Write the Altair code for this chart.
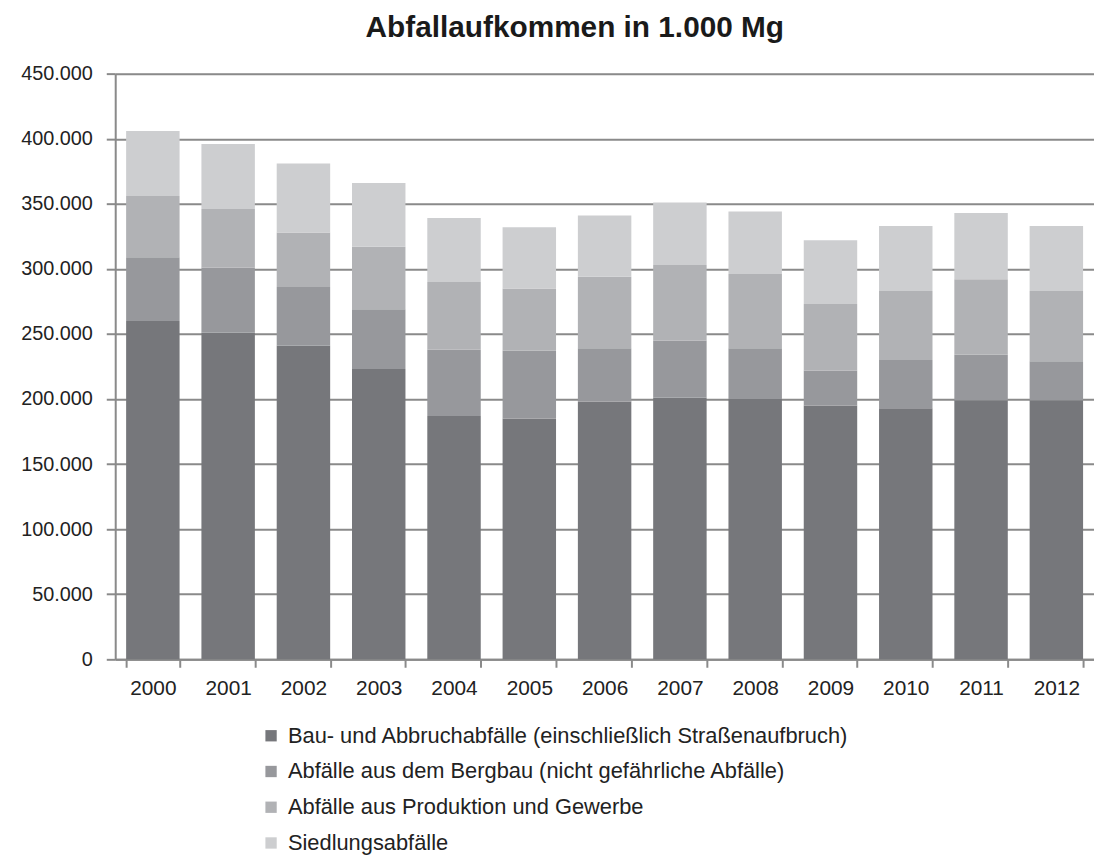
import altair as alt
import pandas as pd

years = ["2000", "2001", "2002", "2003", "2004", "2005", "2006",
         "2007", "2008", "2009", "2010", "2011", "2012"]
series_names = [
    "Bau- und Abbruchabfälle (einschließlich Straßenaufbruch)",
    "Abfälle aus dem Bergbau (nicht gefährliche Abfälle)",
    "Abfälle aus Produktion und Gewerbe",
    "Siedlungsabfälle",
]
bau = [260000, 251000, 241000, 223000, 187000, 185000, 198000,
       201000, 200000, 195000, 193000, 199000, 199000]
bergbau = [49000, 50000, 45000, 46000, 51000, 52000, 41000,
           44000, 39000, 27000, 37000, 35000, 30000]
produktion = [47000, 45000, 42000, 48000, 52000, 48000, 55000,
              58000, 57000, 51000, 53000, 58000, 54000]
siedlung = [50000, 50000, 53000, 49000, 49000, 47000, 47000,
            48000, 48000, 49000, 50000, 51000, 50000]
colors = ["#76777b", "#97989c", "#b1b2b5", "#cdced0"]

rows = []
for i, vals in enumerate([bau, bergbau, produktion, siedlung]):
    for y, v in zip(years, vals):
        rows.append({"Jahr": y, "Art": series_names[i], "Wert": v, "ord": i})
df = pd.DataFrame(rows)

FONT = "Liberation Sans"

chart = alt.Chart(df).mark_bar(strokeWidth=0).encode(
    x=alt.X("Jahr:N", sort=years, title=None,
            scale=alt.Scale(paddingInner=0.29, paddingOuter=0.145),
            axis=alt.Axis(labelAngle=0, labelFontSize=21, labelFont=FONT,
                          labelColor="#222222", domainColor="#8a8a8a",
                          domainWidth=2, tickColor="#8a8a8a", tickWidth=2,
                          tickSize=8, tickBand="extent", labelPadding=10,
                          grid=False)),
    y=alt.Y("Wert:Q", title=None, stack="zero",
            scale=alt.Scale(domain=[0, 450000], nice=False, zero=True),
            axis=alt.Axis(values=list(range(0, 450001, 50000)),
                          labelExpr="replace(format(datum.value, ','), ',', '.')",
                          labelFontSize=20, labelFont=FONT, labelColor="#222222",
                          domainColor="#8a8a8a", domainWidth=2,
                          tickColor="#8a8a8a", tickWidth=2, tickSize=9,
                          labelPadding=14, gridColor="#8a8a8a", gridWidth=2,
                          gridOpacity=1)),
    color=alt.Color("Art:N", sort=series_names,
                    scale=alt.Scale(domain=series_names, range=colors),
                    legend=alt.Legend(title=None, orient="none",
                                      legendX=146, legendY=656,
                                      direction="vertical",
                                      symbolType="square", symbolSize=130,
                                      symbolStrokeWidth=0, symbolOpacity=1,
                                      labelFontSize=22, labelFont=FONT,
                                      labelColor="#222222", labelOffset=6,
                                      rowPadding=14, padding=0,
                                      labelLimit=900)),
    order=alt.Order("ord:Q", sort="ascending"),
).properties(
    width=986,
    height=590,
    padding={"left": 108, "top": 63, "right": 0, "bottom": 194},
    autosize=alt.AutoSizeParams(type="none"),
    title=alt.TitleParams("Abfallaufkommen in 1.000 Mg", fontSize=30,
                          fontWeight="bold", font=FONT, color="#1a1a1a",
                          anchor="middle", frame="group", dx=-30, offset=21),
).configure_view(stroke=None).configure(background="white")

chart.save("out.html", embed_options={"renderer": "svg", "actions": False})
